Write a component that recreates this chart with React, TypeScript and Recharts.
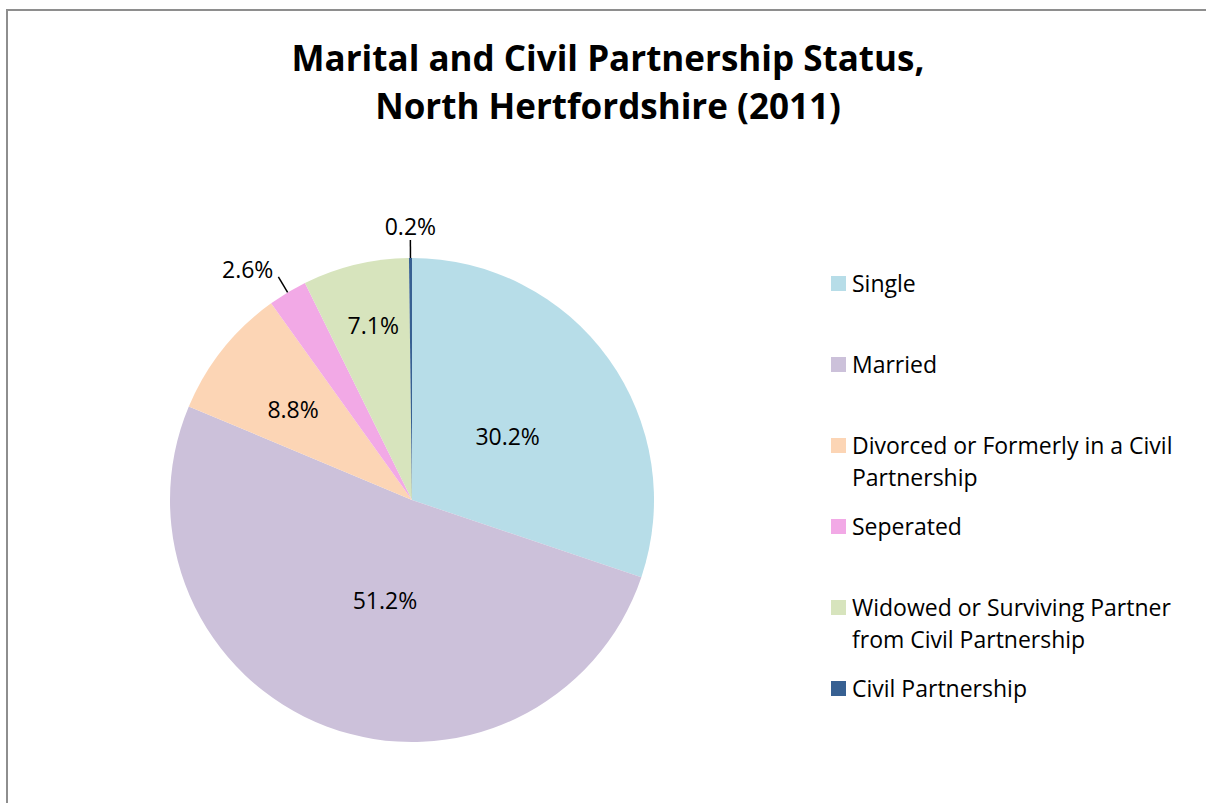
import { Legend, Pie, PieChart, Cell } from "recharts";

const categories = [
  "Single",
  "Married",
  "Divorced or Formerly in a Civil Partnership",
  "Seperated",
  "Widowed or Surviving Partner from Civil Partnership",
  "Civil Partnership",
];
const shares = [30.2, 51.2, 8.8, 2.6, 7.1, 0.2];
const colors = ["#b7dde8", "#ccc1da", "#fcd5b5", "#f2a9e6", "#d7e4bd", "#376092"];
const legendLines = [
  ["Single"],
  ["Married"],
  ["Divorced or Formerly in a Civil", "Partnership"],
  ["Seperated"],
  ["Widowed or Surviving Partner", "from Civil Partnership"],
  ["Civil Partnership"],
];

// label placement per slice: inside (radius fraction + angle nudge) or outside with leader line
const labelPlace = [
  { inside: true, r: 0.475, da: -2 },
  { inside: true, r: 0.43, da: 5.6 },
  { inside: true, r: 0.62, da: 1 },
  { inside: false, r: 0, da: 0 },
  { inside: true, r: 0.74, da: -1 },
  { inside: false, r: 0, da: 0 },
];

const data = categories.map((name, i) => ({ name, value: shares[i] }));

const FONT = "'Open Sans', 'Noto Sans', sans-serif";
const RAD = Math.PI / 180;

function renderLabel(props: any) {
  const { cx, cy, midAngle, outerRadius, index, value } = props;
  const place = labelPlace[index];
  const text = `${Number(value).toFixed(1)}%`;
  if (place.inside) {
    const a = (midAngle + place.da) * RAD;
    const r = outerRadius * place.r;
    const x = cx + r * Math.cos(a);
    const y = cy - r * Math.sin(a);
    return (
      <text x={x} y={y} textAnchor="middle" dominantBaseline="central" fontSize={23} fontFamily={FONT} fill="#000">
        {text}
      </text>
    );
  }
  const a = midAngle * RAD;
  const x1 = cx + outerRadius * Math.cos(a);
  const y1 = cy - outerRadius * Math.sin(a);
  const x2 = cx + (outerRadius + 18) * Math.cos(a);
  const y2 = cy - (outerRadius + 18) * Math.sin(a);
  const vertical = Math.abs(x2 - x1) < 3;
  return (
    <g>
      <line x1={x1} y1={y1} x2={x2} y2={y2} stroke="#000" strokeWidth={1.5} />
      <text
        x={vertical ? x2 : x2 - 5}
        y={vertical ? y2 - 14 : y2 - 8}
        textAnchor={vertical ? "middle" : "end"}
        dominantBaseline="central"
        fontSize={23}
        fontFamily={FONT}
        fill="#000"
      >
        {text}
      </text>
    </g>
  );
}

function LegendBox(props: any) {
  const payload = props.payload || [];
  return (
    <div style={{ position: "relative", fontFamily: FONT, fontSize: 23, color: "#000" }}>
      {payload.map((entry: any) => {
        const i = categories.indexOf(entry.value);
        return (
          <div key={entry.value} style={{ position: "absolute", left: 0, top: i * 81, display: "flex" }}>
            <div style={{ width: 15, height: 15, background: colors[i], marginTop: 9, marginRight: 6 }} />
            <div style={{ lineHeight: "32px", whiteSpace: "nowrap" }}>
              {legendLines[i].map((l, j) => (
                <div key={j}>{l}</div>
              ))}
            </div>
          </div>
        );
      })}
    </div>
  );
}

export default function App() {
  return (
    <div style={{ position: "fixed", left: 0, top: 0, width: 1206, height: 803, overflow: "hidden", background: "#fff" }}>
      <div
        style={{
          position: "absolute",
          left: 6,
          top: 9,
          width: 1300,
          height: 900,
          border: "2px solid #8e8e8e",
        }}
      />
      <div
        style={{
          position: "absolute",
          left: 0,
          top: 34,
          width: 1216,
          textAlign: "center",
          fontFamily: FONT,
          fontWeight: 700,
          fontSize: 35,
          lineHeight: "48px",
          color: "#000",
        }}
      >
        <div>Marital and Civil Partnership Status,</div>
        <div>North Hertfordshire (2011)</div>
      </div>
      <div style={{ position: "absolute", left: 0, top: 0 }}>
        <PieChart width={1206} height={803} margin={{ top: 0, right: 0, bottom: 0, left: 0 }}>
          <Pie
            data={data}
            dataKey="value"
            nameKey="name"
            cx={412}
            cy={500}
            outerRadius={242}
            startAngle={90}
            endAngle={-270}
            stroke="none"
            label={renderLabel}
            labelLine={false}
            isAnimationActive={false}
          >
            {data.map((d, i) => (
              <Cell key={d.name} fill={colors[i]} />
            ))}
          </Pie>
          <Legend
            layout="vertical"
            content={<LegendBox />}
            wrapperStyle={{ position: "absolute", left: 831, top: 267, width: 370, height: 460 }}
          />
        </PieChart>
      </div>
    </div>
  );
}
